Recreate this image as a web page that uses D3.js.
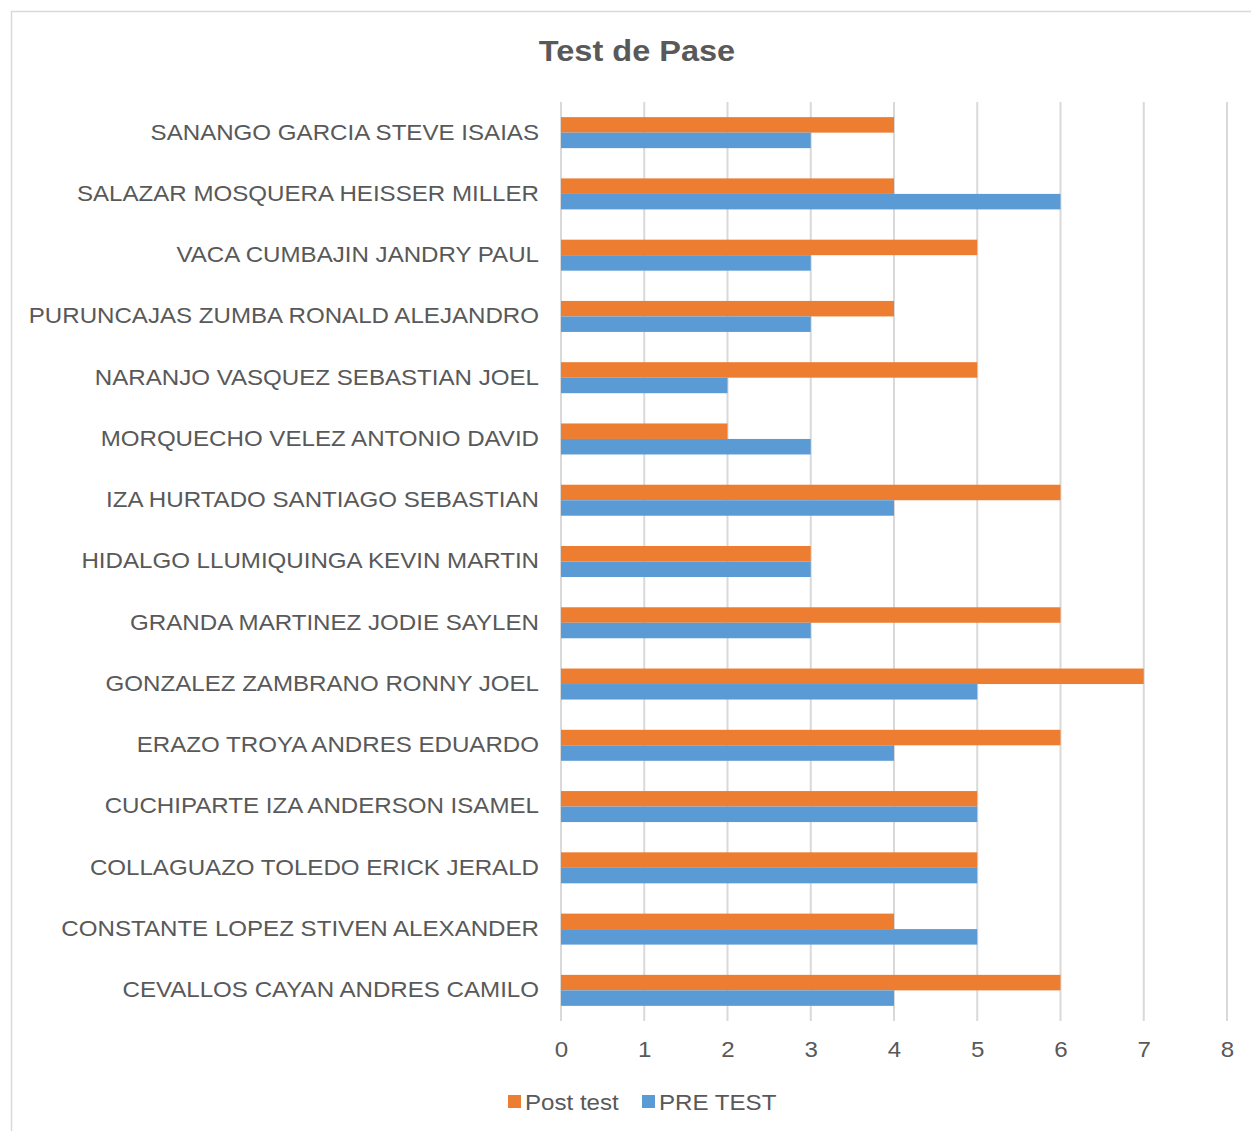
<!DOCTYPE html>
<html>
<head>
<meta charset="utf-8">
<script src="https://cdn.jsdelivr.net/npm/d3@7"></script>
<style>
  body { margin: 0; background: #fff; }
  svg { display: block; font-family: "Liberation Sans", Arial, sans-serif; }
</style>
</head>
<body>
<svg width="1251" height="1131"></svg>
<script>
const names = [
  "SANANGO GARCIA STEVE ISAIAS",
  "SALAZAR MOSQUERA HEISSER MILLER",
  "VACA CUMBAJIN JANDRY PAUL",
  "PURUNCAJAS ZUMBA RONALD ALEJANDRO",
  "NARANJO VASQUEZ SEBASTIAN JOEL",
  "MORQUECHO VELEZ ANTONIO DAVID",
  "IZA HURTADO SANTIAGO SEBASTIAN",
  "HIDALGO LLUMIQUINGA KEVIN MARTIN",
  "GRANDA MARTINEZ JODIE SAYLEN",
  "GONZALEZ ZAMBRANO RONNY JOEL",
  "ERAZO TROYA ANDRES EDUARDO",
  "CUCHIPARTE IZA ANDERSON ISAMEL",
  "COLLAGUAZO TOLEDO ERICK JERALD",
  "CONSTANTE LOPEZ STIVEN ALEXANDER",
  "CEVALLOS CAYAN ANDRES CAMILO"
];
const postTest = [4, 4, 5, 4, 5, 2, 6, 3, 6, 7, 6, 5, 5, 4, 6];
const preTest = [3, 6, 3, 3, 2, 3, 4, 3, 3, 5, 4, 5, 5, 5, 4];
const xTicks = [0, 1, 2, 3, 4, 5, 6, 7, 8];
const seriesNames = ["Post test", "PRE TEST"];
const colors = ["#ED7D31", "#5B9BD5"];

const rows = names.map((n, i) => ({ name: n, values: [postTest[i], preTest[i]] }));

const svg = d3.select("svg");
const textColor = "#595959";
const stretch = 1.122; // the source image is slightly wider than tall

// chart border (only top/left visible in the frame)
svg.append("rect")
  .attr("x", 11.5).attr("y", 11.5)
  .attr("width", 1300).attr("height", 1300)
  .attr("fill", "none")
  .attr("stroke", "#d9d9d9")
  .attr("stroke-width", 1.5);

svg.append("text")
  .attr("transform", `translate(637,61) scale(${stretch},1)`)
  .attr("text-anchor", "middle")
  .attr("font-size", 29)
  .attr("font-weight", "bold")
  .attr("fill", textColor)
  .text("Test de Pase");

const plotLeft = 561, plotRight = 1227, plotTop = 102, plotBottom = 1021;

const x = d3.scaleLinear().domain([0, 8]).range([plotLeft, plotRight]);
const y = d3.scaleBand().domain(names).range([plotTop, plotBottom]);
const inner = d3.scaleBand().domain([0, 1])
  .range([y.bandwidth() / 2 - 15.5, y.bandwidth() / 2 + 15.5]);

// gridlines
svg.append("g")
  .selectAll("line")
  .data(xTicks)
  .join("line")
  .attr("x1", (d) => x(d)).attr("x2", (d) => x(d))
  .attr("y1", plotTop).attr("y2", plotBottom)
  .attr("stroke", "#d9d9d9")
  .attr("stroke-width", 2);

const groups = svg.append("g")
  .selectAll("g")
  .data(rows)
  .join("g")
  .attr("transform", (d) => `translate(0,${y(d.name)})`);

groups.selectAll("rect")
  .data((d) => d.values.map((v, k) => ({ v, k })))
  .join("rect")
  .attr("x", x(0))
  .attr("y", (d) => inner(d.k))
  .attr("width", (d) => x(d.v) - x(0))
  .attr("height", inner.bandwidth())
  .attr("fill", (d) => colors[d.k]);

// category labels
const yAxis = svg.append("g")
  .attr("transform", `translate(${plotLeft},0)`)
  .call(d3.axisLeft(y).tickSize(0));
yAxis.select(".domain").remove();
yAxis.selectAll("text")
  .attr("x", 0)
  .attr("transform", `translate(-22,0) scale(${stretch},1)`)
  .attr("font-size", 21.5)
  .attr("fill", textColor)
  .attr("font-family", "Liberation Sans, Arial, sans-serif");

// x axis labels
const xAxis = svg.append("g")
  .attr("transform", `translate(0,${plotBottom})`)
  .call(d3.axisBottom(x).tickValues(xTicks).tickFormat(d3.format("d")).tickSize(0).tickPadding(21));
xAxis.select(".domain").remove();
xAxis.selectAll("text")
  .attr("transform", `scale(${stretch},1)`)
  .attr("font-size", 21.5)
  .attr("fill", textColor)
  .attr("font-family", "Liberation Sans, Arial, sans-serif");

// legend
const legendPos = [508, 642];
const legend = svg.append("g")
  .selectAll("g")
  .data(seriesNames)
  .join("g")
  .attr("transform", (d, i) => `translate(${legendPos[i]},1095)`);
legend.append("rect")
  .attr("width", 13).attr("height", 13)
  .attr("fill", (d, i) => colors[i]);
legend.append("text")
  .attr("transform", `translate(17,15) scale(${stretch},1)`)
  .attr("font-size", 21.5)
  .attr("fill", textColor)
  .text((d) => d);
</script>
</body>
</html>
